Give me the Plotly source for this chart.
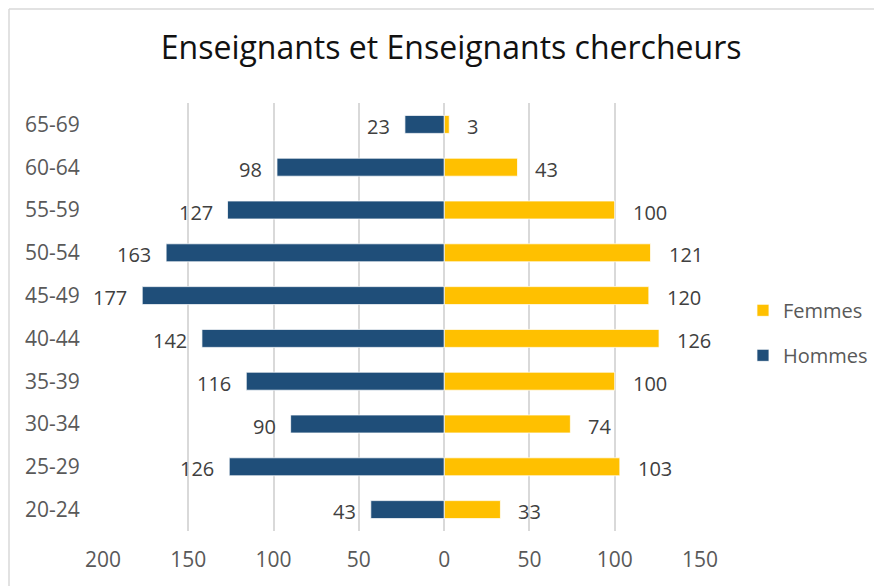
import plotly.graph_objects as go

age_groups = ["20-24", "25-29", "30-34", "35-39", "40-44", "45-49", "50-54", "55-59", "60-64", "65-69"]
hommes = [43, 126, 90, 116, 142, 177, 163, 127, 98, 23]
femmes = [33, 103, 74, 100, 126, 120, 121, 100, 43, 3]
tick_values = [-200, -150, -100, -50, 0, 50, 100, 150]
tick_labels = ["200", "150", "100", "50", "0", "50", "100", "150"]

BLUE = "#1F4E79"
GOLD = "#FFC000"
FONT = "Open Sans"

W, H = 874, 578
ML, MT, PW, PH = 95, 95, 597, 428
MR = W - ML - PW
MB = H - MT - PH

fig = go.Figure()
fig.add_trace(go.Bar(
    name="Femmes", y=age_groups, x=femmes, orientation="h", legendgroup="f",
    marker=dict(color=GOLD, line=dict(color="white", width=0.75)),
))
fig.add_trace(go.Bar(
    name="Hommes", y=age_groups, x=[-v for v in hommes], orientation="h", legendgroup="h",
    marker=dict(color=BLUE, line=dict(color="white", width=0.75)),
))

annotations = []
for cat, v in zip(age_groups, hommes):
    annotations.append(dict(x=-v, y=cat, xref="x", yref="y", text=str(v), showarrow=False,
                            xanchor="right", yanchor="middle", xshift=-13, yshift=-2,
                            font=dict(family=FONT, size=20, color="#404040")))
for cat, v in zip(age_groups, femmes):
    annotations.append(dict(x=v, y=cat, xref="x", yref="y", text=str(v), showarrow=False,
                            xanchor="left", yanchor="middle", xshift=16, yshift=-2,
                            font=dict(family=FONT, size=20, color="#404040")))

border = "#d9d9d9"
fig.update_layout(
    width=W, height=H,
    margin=dict(l=ML, r=MR, t=MT, b=MB, autoexpand=False),
    paper_bgcolor="white", plot_bgcolor="white",
    barmode="relative", bargap=0.58,
    title=dict(text="Enseignants et Enseignants chercheurs", x=0.507, xanchor="center",
               y=0.931, yanchor="middle", font=dict(family=FONT, size=32, color="#111111")),
    font=dict(family=FONT, size=20, color="#595959"),
    legend=dict(x=1.072, xanchor="left", y=0.463, yanchor="middle", traceorder="grouped",
                tracegroupgap=16, font=dict(family=FONT, size=20, color="#595959"),
                itemwidth=30),
    annotations=annotations,
    shapes=[
        dict(type="line", xref="paper", yref="paper",
             x0=(1 - ML) / PW, x1=(1 - ML) / PW, y0=-MB / PH, y1=(MT + PH - 1) / PH,
             line=dict(color=border, width=1.5)),
        dict(type="line", xref="paper", yref="paper",
             x0=(1 - ML) / PW, x1=(W - ML) / PW, y0=(MT + PH - 1) / PH, y1=(MT + PH - 1) / PH,
             line=dict(color=border, width=1.5)),
    ],
)

fig.update_xaxes(range=[-200, 150], tickvals=tick_values, ticktext=tick_labels, automargin=False,
                 showgrid=True, gridcolor="#d9d9d9", gridwidth=1.5,
                 zeroline=True, zerolinecolor="#d9d9d9", zerolinewidth=1.5,
                 ticks="outside", ticklen=10, tickcolor="rgba(0,0,0,0)",
                 tickfont=dict(family=FONT, size=21, color="#595959"), fixedrange=True)
fig.update_yaxes(categoryorder="array", categoryarray=age_groups, showgrid=False, automargin=False,
                 ticks="outside", ticklen=18, tickcolor="rgba(0,0,0,0)",
                 tickfont=dict(family=FONT, size=21, color="#595959"), fixedrange=True)

fig.write_html("out.html")
